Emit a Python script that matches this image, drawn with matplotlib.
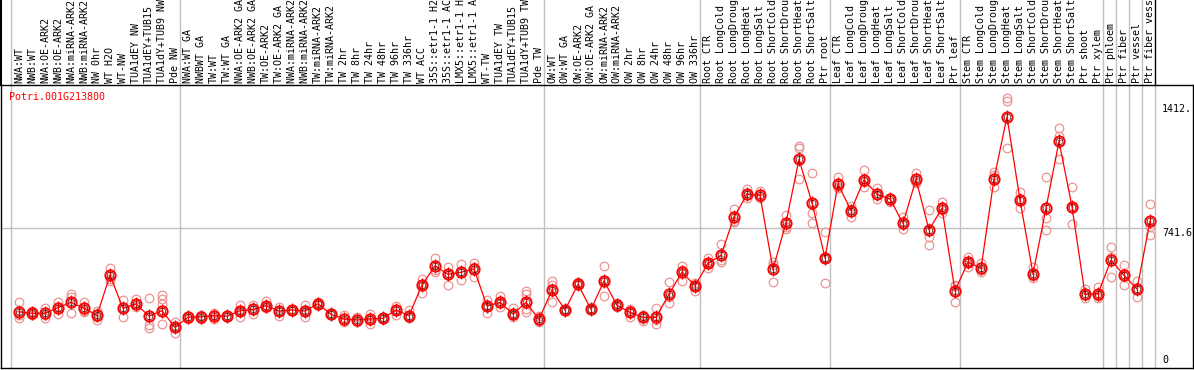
import matplotlib
matplotlib.use("Agg")
import matplotlib.pyplot as plt

# sample labels, by group
group1 = ["NWA:WT", "NWB:WT", "NWA:OE-ARK2", "NWB:OE-ARK2", "NWA:miRNA-ARK2",
          "NWB:miRNA-ARK2", "NW 0hr", "WT H2O", "WT-NW", "TUA1dEY NW",
          "TUA1dEY+TUB15", "TUA1dY+TUB9 NW", "Pde NW"]
group2 = ["NWA:WT GA", "NWBWT GA", "TW:WT", "TW:WT GA", "NWA:OE-ARK2 GA",
          "NWB:OE-ARK2 GA", "TW:OE-ARK2", "TW:OE-ARK2 GA", "NWA:miRNA-ARK2 GA",
          "NWB:miRNA-ARK2 GA", "TW:miRNA-ARK2", "TW:miRNA-ARK2 GA", "TW 2hr",
          "TW 8hr", "TW 24hr", "TW 48hr", "TW 96hr", "TW 336hr", "WT ACC",
          "35S::etr1-1 H2O", "35S::etr1-1 ACC", "LMX5::etr1-1 H2O",
          "LMX5::etr1-1 ACC", "WT-TW", "TUA1dEY TW", "TUA1dEY+TUB15",
          "TUA1dY+TUB9 TW", "Pde TW"]
group3 = ["OW:WT", "OW:WT GA", "OW:OE-ARK2", "OW:OE-ARK2 GA", "OW:miRNA-ARK2",
          "OW:miRNA-ARK2 GA", "OW 2hr", "OW 8hr", "OW 24hr", "OW 48hr",
          "OW 96hr", "OW 336hr"]
stress = ["CTR", "LongCold", "LongDrought", "LongHeat", "LongSalt",
          "ShortCold", "ShortDrought", "ShortHeat", "ShortSalt"]
group4 = ["Root " + s for s in stress] + ["Ptr root"]
group5 = ["Leaf " + s for s in stress] + ["Ptr leaf"]
group6 = ["Stem " + s for s in stress] + ["Ptr shoot", "Ptr xylem"]
group7 = ["Ptr phloem"]
group8 = ["Ptr fiber"]
group9 = ["Ptr vessel"]
group10 = ["Ptr fiber vessel"]
groups = [group1, group2, group3, group4, group5, group6,
          group7, group8, group9, group10]
labels = [lab for g in groups for lab in g]

# mean expression per sample
means = [288, 280, 280, 310, 339, 307, 269, 486, 307, 330, 265, 294, 204,
         258, 261, 267, 264, 294, 301, 321, 292, 298, 292, 332, 274, 249, 244,
         249, 253, 298, 267, 433, 536, 491, 502, 520, 319, 339, 276, 339, 247,
         406, 298, 437, 301, 455, 323, 285, 258, 258, 383, 503, 429,
         550, 594, 800, 924, 919, 518, 770, 1113, 879, 579,
         980, 835, 1003, 924, 899, 767, 1005, 731, 848, 401,
         558, 523, 1007, 1344, 893, 494, 848, 1211, 857, 383, 386,
         568, 486, 411, 778]

# replicate values per sample
reps = [[339, 269, 256], [290, 280, 270], [310, 269, 256], [343, 312, 276],
        [383, 370, 280], [339, 292, 289], [292, 262, 244], [523, 464, 456],
        [352, 307, 258], [359, 334, 316], [361, 217, 199], [379, 356, 330, 222],
        [234, 204, 175],
        [265, 255, 247], [271, 263, 247], [283, 270, 247], [266, 264, 262],
        [325, 292, 258], [323, 300, 276], [346, 321, 307], [312, 292, 265],
        [300, 298, 295], [325, 292, 261], [343, 330, 325], [278, 274, 270],
        [269, 240, 235], [261, 240, 235], [276, 245, 222], [258, 252, 250],
        [319, 300, 271], [298, 267, 253], [464, 440, 388], [578, 514, 506],
        [529, 500, 433], [547, 502, 460], [554, 530, 475], [352, 321, 280],
        [373, 333, 312], [307, 276, 258], [400, 384, 301, 288], [267, 240, 234],
        [455, 433, 341], [301, 298, 295], [451, 437, 433], [304, 301, 298],
        [536, 455, 373], [337, 323, 312], [301, 285, 261], [271, 258, 240],
        [307, 245, 222], [449, 366, 337], [538, 512, 455], [446, 430, 402],
        [581, 550, 523], [653, 568, 559], [843, 781, 774], [951, 919, 902],
        [942, 911, 903], [559, 541, 451], [812, 749, 734], [1185, 1173, 1005],
        [1038, 824, 770], [718, 577, 442],
        [1016, 965, 959], [861, 845, 799], [1056, 992, 962], [956, 919, 897],
        [906, 906, 884], [803, 760, 738], [1041, 990, 984], [839, 694, 648],
        [884, 840, 821], [433, 430, 339],
        [586, 555, 532], [550, 515, 505], [1043, 1028, 965], [1447, 1429, 1176],
        [935, 896, 848], [532, 482, 469], [1016, 797, 731], [1281, 1241, 1115],
        [962, 848, 762], [411, 378, 361], [421, 376, 361],
        [640, 586, 478], [541, 482, 433], [455, 412, 366], [871, 749, 704]]

gene = "Potri.001G213800"
ytick_vals = [1412, 741.6, 0]
ytick_text = ["1412.", "741.6", "0"]

mono = "DejaVu Sans Mono"
W, H = 1194, 370
fig = plt.figure(figsize=(W / 100, H / 100), dpi=100)
ax = fig.add_axes([1 / W, 2 / H, 1192 / W, 283 / H])
ax.set_xlim(-18 / 13, 1174 / 13)
ax.set_ylim(-16.2, 1515.6)
ax.set_xticks([])
ax.set_yticks([])
for s in ax.spines.values():
    s.set_linewidth(1.0)
    s.set_color("black")

top_ext = 1 + 85 / 283
xt = ax.get_xaxis_transform()

# group separators
bounds = [0]
for g in groups:
    bounds.append(bounds[-1] + len(g))
for b in bounds:
    x = b - 8 / 13
    ax.plot([x, x], [0, 1], color="#c0c0c0", lw=1, transform=xt, zorder=1)
    ax.plot([x, x], [1, top_ext], color="black" if b == bounds[-1] else "#c0c0c0",
            lw=1, transform=xt, clip_on=False, zorder=1)
ax.plot([-18 / 13] * 2, [1, top_ext], color="black", lw=1.5, transform=xt,
        clip_on=False)

# mid gridline
ax.plot([-18 / 13, bounds[-1] - 8 / 13], [ytick_vals[1]] * 2, color="#c0c0c0",
        lw=1, zorder=1)

xs = list(range(len(labels)))

# replicates
for i, r in enumerate(reps):
    ax.plot([i] * len(r), r, "o", ms=6.2, mfc="none", mec="#ec9494", mew=0.9,
            zorder=2)

# mean line + markers
ax.plot(xs, means, "-", color="red", lw=0.9, zorder=3)
ax.plot(xs, means, "|", color="red", ms=10, mew=0.9, zorder=4)
ax.plot(xs, means, "o", ms=7.4, mfc="none", mec="red", mew=1.4, zorder=5)
ax.plot(xs, means, "o", ms=4.8, mfc="none", mec="#500000", mew=0.5, zorder=6)

# sample labels
for i, lab in enumerate(labels):
    ax.text(i, 1 + 2 / 283, lab, rotation=90, ha="center", va="bottom",
            transform=xt, family=mono, fontsize=7.2, clip_on=False)

# gene name
ax.text(8 / 1192, 1 - 12 / 283, gene, transform=ax.transAxes, color="red",
        family=mono, fontsize=7.2, ha="left", va="center")

# value labels on the right
ax.text(1162 / 13 - 19 / 13, ytick_vals[0], ytick_text[0], family=mono,
        fontsize=7.2, ha="left", va="top")
ax.text(1162 / 13 - 19 / 13, ytick_vals[1], ytick_text[1], family=mono,
        fontsize=7.2, ha="left", va="top")
ax.text(1162 / 13 - 19 / 13, ytick_vals[2], ytick_text[2], family=mono,
        fontsize=7.2, ha="left", va="bottom")

fig.savefig("out.png", dpi=100)
